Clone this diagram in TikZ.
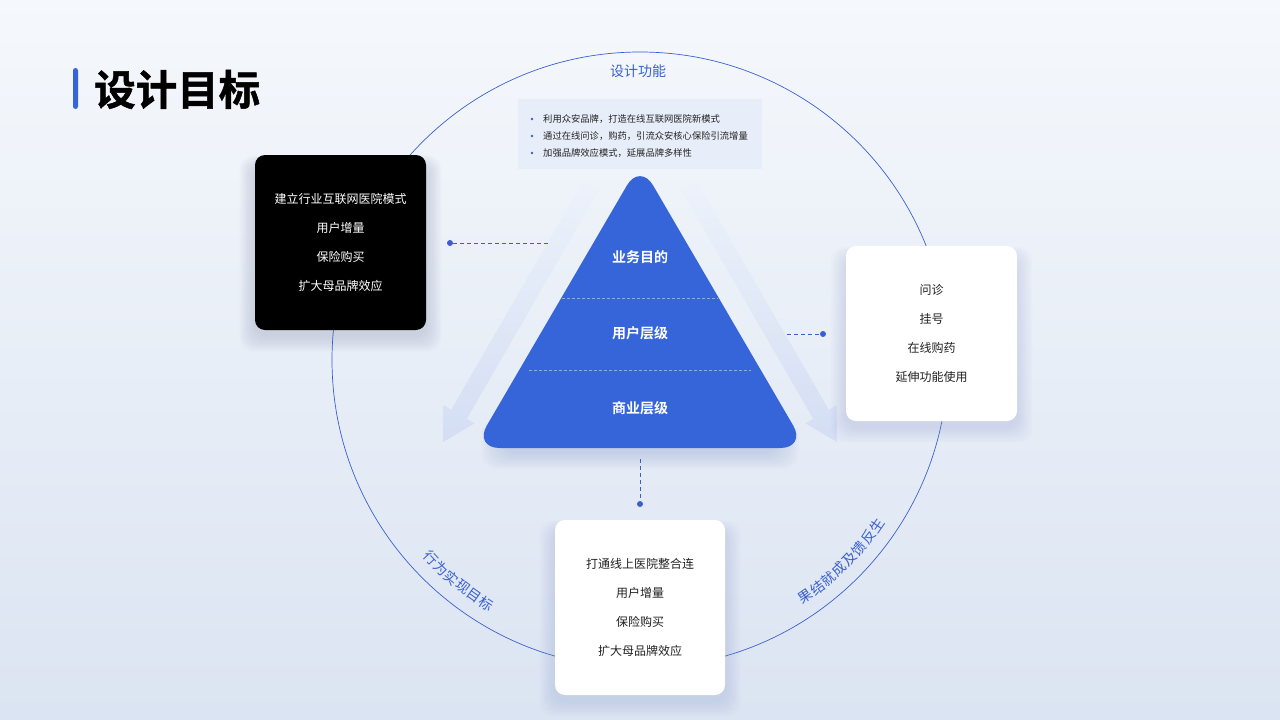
\documentclass[tikz,border=0pt]{standalone}
\usepackage{fontspec}
\setmainfont{Noto Sans CJK SC}[BoldFont={Noto Sans CJK SC Bold}]
\newfontfamily\titlefont{Noto Sans CJK SC Bold}[FakeBold=1.2]
\usetikzlibrary{calc}
\definecolor{bgtop}{HTML}{F5F8FC}
\definecolor{bgbot}{HTML}{DBE4F2}
\definecolor{pyr}{HTML}{3565D8}
\definecolor{lineblue}{HTML}{3A60CF}
\definecolor{ghostbot}{HTML}{D4DEF4}
\definecolor{ghosttop}{HTML}{EDF2FA}
\definecolor{infobg}{HTML}{E8EEF9}
\definecolor{txt}{HTML}{222222}
\definecolor{shblue}{HTML}{8FA3D0}
\definecolor{shdark}{HTML}{5A6078}
\newcommand\softshadow[6]{%
  \foreach \i in {1,...,12}{%
    \fill[#5, opacity=#6, rounded corners=14pt]
      ({#1-\i*1.3},{#2+10-\i*0.8}) rectangle ({#3+\i*1.3},{#4+6+\i*1.3});}}
\begin{document}
\begin{tikzpicture}[x=1pt,y=-1pt,
  card/.style={rounded corners=10pt, minimum width=171pt, minimum height=175pt,
    align=center, font=\fontsize{12}{29}\selectfont, inner sep=0pt},
  conn/.style={draw=lineblue, line width=0.8pt, dash pattern=on 4pt off 3pt},
  dotnode/.style={circle, fill=lineblue, inner sep=0pt, minimum size=6pt},
  pyrlabel/.style={text=white, font=\fontsize{14}{16}\selectfont\bfseries},
  arclabel/.style={text=lineblue, font=\fontsize{14}{16}\selectfont, inner sep=0pt},
  infotext/.style={anchor=west, text=txt, font=\fontsize{9.3}{11}\selectfont, inner sep=0pt},
  layerline/.style={draw=white, draw opacity=0.45, line width=0.6pt, dash pattern=on 3pt off 2pt}]
\useasboundingbox (0,0) rectangle (1280,720);
% background
\shade[top color=bgtop, bottom color=bgbot] (0,0) rectangle (1280,720);

% big circle
\node[circle, draw=lineblue, line width=0.7pt, minimum size=616pt, inner sep=0pt] (ring) at (640,360) {};

% title
\fill[pyr, rounded corners=2.5pt] (73,68) rectangle (78,109);
\node[anchor=west, inner sep=0pt, font=\fontsize{41.5}{44}\selectfont\titlefont] (title) at (94,89.5) {设计目标};

% ring top label
\node[text=lineblue, font=\fontsize{14}{16}\selectfont] (funclabel) at (638,71) {设计功能};

% info box
\node[fill=infobg, minimum width=244pt, minimum height=70pt, inner sep=0pt] (info) at (640,134) {};
\foreach \yy/\tt [count=\k] in {119/利用众安品牌，打造在线互联网医院新模式,
  136/通过在线问诊，购药，引流众安核心保险引流增量,
  153/加强品牌效应模式，延展品牌多样性}{
  \fill[lineblue] (532,\yy) circle[radius=1.4pt];
  \node[infotext] (info-\k) at (543,\yy) {\tt};
}

% ghost arrows
\shade[top color=ghosttop, bottom color=ghostbot]
  (583.6,180.5) -- (599.2,189.5) -- (466.8,418.8) -- (474.6,423.3) -- (443,442)
  -- (443.4,405.3) -- (451.2,409.8) -- cycle;
\shade[top color=ghosttop, bottom color=ghostbot]
  (696.4,180.5) -- (680.8,189.5) -- (813.2,418.8) -- (805.4,423.3) -- (837,442)
  -- (836.6,405.3) -- (828.8,409.8) -- cycle;

% pyramid shadow
\foreach \i in {1,...,12}{
  \fill[shblue, opacity=0.03, rounded corners=16pt]
    ({505-\i*2},{425-\i*0.5}) rectangle ({775+\i*2},{452+\i*1.4});}
% pyramid
\coordinate (ptop) at (640,163);
\coordinate (pleft) at (473.7,448);
\coordinate (pright) at (806.3,448);
\fill[pyr, rounded corners=26pt] (640,448) -- (pright) -- (ptop) -- (pleft) -- cycle;
\draw[layerline] (562,298) -- (718,298);
\draw[layerline] (529,370) -- (751,370);
\node[pyrlabel] (p1) at (640,257) {业务目的};
\node[pyrlabel] (p2) at (640,333) {用户层级};
\node[pyrlabel] (p3) at (640,408) {商业层级};

% card shadows
\softshadow{255}{155}{426}{330}{shdark}{0.014}
\softshadow{846}{246}{1017}{421}{shblue}{0.02}
\softshadow{555}{520}{725}{695}{shblue}{0.02}

% cards
\node[card, fill=black, text=white] (lcard) at (340.5,242.5)
  {建立行业互联网医院模式\\用户增量\\保险购买\\扩大母品牌效应};
\node[card, fill=white, text=txt] (rcard) at (931.5,333.5)
  {问诊\\挂号\\在线购药\\延伸功能使用};
\node[card, fill=white, text=txt, minimum width=170pt] (bcard) at (640,607.5)
  {打通线上医院整合连\\用户增量\\保险购买\\扩大母品牌效应};

% connectors
\node[dotnode] (ldot) at (450,243) {};
\coordinate (lend) at (551,243);
\draw[conn] (ldot) -- (lend);
\coordinate (rstart) at (787,334);
\node[dotnode] (rdot) at (823,334) {};
\draw[conn] (rstart) -- (rdot);
\coordinate (bstart) at (640,459);
\node[dotnode] (bdot) at (640,504) {};
\draw[conn] (bstart) -- (bdot);

% arc labels
\foreach \c [count=\k from 0] in {行,为,实,现,目,标}{
  \pgfmathsetmacro\ang{223.4+2.86*\k}
  \pgfmathsetmacro\rot{\ang+90}
  \node[arclabel, rotate=\rot] (la-\k) at ({640+288*cos(\ang)},{360-288*sin(\ang)}) {\c};
}
\foreach \c [count=\k from 0] in {果,结,就,成,及,馈,反,生}{
  \pgfmathsetmacro\ang{305.0+2.87*\k}
  \pgfmathsetmacro\rot{\ang+90}
  \node[arclabel, rotate=\rot] (ra-\k) at ({640+289*cos(\ang)},{360-289*sin(\ang)}) {\c};
}
\end{tikzpicture}
\end{document}
